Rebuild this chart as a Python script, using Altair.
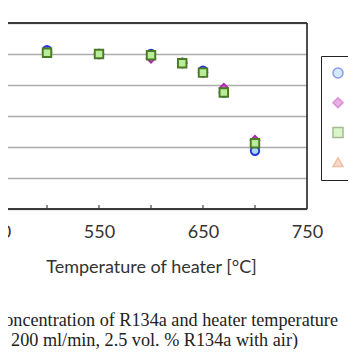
import altair as alt
import pandas as pd

# ---- data ----
series_names = ["< 1st >", "< 2nd >", "< 3rd >", "< 4th >"]
temps = [450, 500, 550, 600, 630, 650, 670, 700]
conc_circle = [2.51, 2.56, 2.50, 2.50, 2.36, 2.23, 1.88, 0.94]
conc_diamond = [2.51, 2.53, 2.50, 2.43, 2.35, 2.20, 1.95, 1.11]
conc_square = [2.51, 2.52, 2.50, 2.48, 2.35, 2.20, 1.88, 1.06]
# 4th series (triangles) has no point in the visible range

x_labels = [450, 550, 650, 750]
x_minor_ticks = [500, 550, 600, 650, 700]
y_ticks = [0, 0.5, 1.0, 1.5, 2.0, 2.5, 3.0]
y_frame = [0.0, 3.0]
x_frame = [750]

caption_1 = ["Fig. 7 Relationship between concentration of R134a and heater temperature"]
caption_2 = ["(Total flow rate = 200 ml/min, 2.5 vol. % R134a with air)"]

# ---- styling ----
shapes = ["circle", "diamond", "square", "triangle-up"]
fills = ["#a8d8f2", "#d860c8", "#b8ec98", "#f2b48e"]
strokes = ["#2436d8", "#b024b0", "#4a7a22", "#e08050"]

rows = []
k = 0
for name, vals in zip(series_names[:3], [conc_circle, conc_diamond, conc_square]):
    for t, c in zip(temps, vals):
        rows.append({"series": name, "temp": t, "conc": c, "draw": k})
        k += 1
df = pd.DataFrame(rows)

W, H = 312, 186
FONT = "Lato"
TXT = "#333333"
FRAME = "#3a3a3a"

legend = alt.Legend(
    orient="none", legendX=326, legendY=33, title=None,
    strokeColor="#222222", fillColor="white", padding=8,
    symbolOpacity=0.5, symbolSize=100, symbolStrokeWidth=1.5,
    labelFontSize=18, labelFont=FONT, labelColor=TXT,
    rowPadding=11.7, labelOffset=1,
)

x_enc = alt.X(
    "temp:Q",
    scale=alt.Scale(domain=[450, 750], nice=False, zero=False),
    axis=alt.Axis(
        values=x_labels, ticks=False, tickSize=0, domain=False, grid=False,
        title="Temperature of heater [°C]", labelFontSize=18, titleFontSize=18,
        labelFont=FONT, titleFont=FONT, labelColor=TXT, titleColor=TXT,
        titleFontWeight="normal", labelPadding=14, titlePadding=17, labelFlush=False,
    ),
)
y_enc = alt.Y(
    "conc:Q",
    scale=alt.Scale(domain=[0, 3], nice=False),
    axis=alt.Axis(
        values=y_ticks, grid=True, gridColor="#acacac", gridWidth=1.5,
        domain=False, ticks=False, format=".1f",
        title="Concentration of R134a [vol.%]", labelFontSize=18, titleFontSize=18,
        labelFont=FONT, titleFont=FONT,
    ),
)

points = alt.Chart(df).mark_point(filled=True, size=72, strokeWidth=1.9, opacity=1).encode(
    x=x_enc,
    y=y_enc,
    shape=alt.Shape("series:N", scale=alt.Scale(domain=series_names, range=shapes), legend=legend),
    fill=alt.Fill("series:N", scale=alt.Scale(domain=series_names, range=fills), legend=legend),
    stroke=alt.Stroke("series:N", scale=alt.Scale(domain=series_names, range=strokes), legend=legend),
    order=alt.Order("draw:Q"),
)

h_frame = alt.Chart(pd.DataFrame({"conc": y_frame})).mark_rule(
    color=FRAME, strokeWidth=1.8
).encode(y=y_enc, x=alt.value(-20), x2=alt.value(W))

v_frame = alt.Chart(pd.DataFrame({"temp": x_frame})).mark_rule(
    color=FRAME, strokeWidth=1.8
).encode(x=x_enc, y=alt.value(0), y2=alt.value(H))

ticks = alt.Chart(pd.DataFrame({"temp": x_minor_ticks})).mark_rule(
    color="#555555", strokeWidth=1.3
).encode(x=x_enc, y=alt.value(H), y2=alt.value(H - 4))

cap1 = alt.Chart(pd.DataFrame({"line": caption_1})).mark_text(
    align="right", baseline="alphabetic", font="Liberation Serif", fontSize=18.2, color="#222222"
).encode(text="line:N", x=alt.value(343), y=alt.value(303))

cap2 = alt.Chart(pd.DataFrame({"line": caption_2})).mark_text(
    align="right", baseline="alphabetic", font="Liberation Serif", fontSize=18.2, color="#222222"
).encode(text="line:N", x=alt.value(303), y=alt.value(323))

chart = alt.layer(ticks, h_frame, v_frame, points, cap1, cap2).properties(
    width=W, height=H,
    autosize=alt.AutoSizeParams(type="none"),
    padding={"left": -13, "right": 41, "top": 15, "bottom": 140},
    background="white",
).configure_view(strokeWidth=0)

chart.save("out.html", embed_options={"renderer": "svg", "actions": False})
